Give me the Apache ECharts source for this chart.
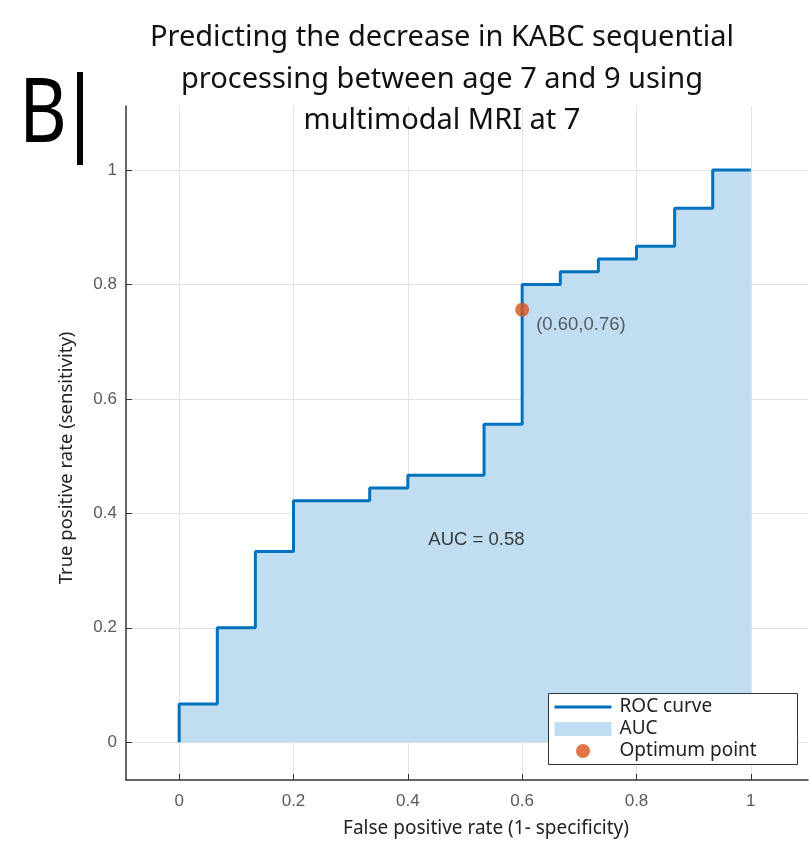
<!DOCTYPE html>
<html>
<head>
<meta charset="utf-8">
<script src="https://cdn.jsdelivr.net/npm/echarts@6/dist/echarts.min.js"></script>
<style>html,body{margin:0;padding:0;background:#fff;}#c{width:811px;height:843px;}</style>
</head>
<body>
<div id="c"></div>
<script>
// ROC staircase vertices (false positive rate, true positive rate)
const fpr = [0, 0, 0.0667, 0.0667, 0.1333, 0.1333, 0.2, 0.2, 0.3333, 0.3333, 0.4, 0.4, 0.5333, 0.5333, 0.6, 0.6, 0.6667, 0.6667, 0.7333, 0.7333, 0.8, 0.8, 0.8667, 0.8667, 0.9333, 0.9333, 1];
const tpr = [0, 0.0667, 0.0667, 0.2, 0.2, 0.3333, 0.3333, 0.4222, 0.4222, 0.4444, 0.4444, 0.4667, 0.4667, 0.5556, 0.5556, 0.8, 0.8, 0.8222, 0.8222, 0.8444, 0.8444, 0.8667, 0.8667, 0.9333, 0.9333, 1, 1];
const optimumPoint = [0.60, 0.756];
const optimumLabel = '(0.60,0.76)';
const aucText = 'AUC = 0.58';
const aucTextPos = [0.52, 0.353];
const xTicks = [0, 0.2, 0.4, 0.6, 0.8, 1];
const yTicks = [0, 0.2, 0.4, 0.6, 0.8, 1];
const titleText = 'Predicting the decrease in KABC sequential\nprocessing between age 7 and 9 using\nmultimodal MRI at 7';
const xName = 'False positive rate (1- specificity)';
const yName = 'True positive rate (sensitivity)';
const legendNames = ['ROC curve', 'AUC', 'Optimum point'];

const roc = fpr.map((x, i) => [x, tpr[i]]);

const chart = echarts.init(document.getElementById('c'), null, {renderer: 'canvas'});
const tickLabelStyle = {color: '#5a5a5a', fontFamily: 'Liberation Sans, Arial, sans-serif', fontSize: 17};
const annoStyle = {color: '#3a3a3a', fontFamily: 'Liberation Sans, Arial, sans-serif', fontSize: 18.5};
chart.setOption({
  animation: false,
  backgroundColor: '#fff',
  title: {
    text: titleText,
    left: 437,
    textAlign: 'center',
    top: 12,
    textStyle: {fontFamily: 'Noto Sans, sans-serif', fontWeight: 'normal', fontSize: 29, color: '#111', lineHeight: 41.5}
  },
  graphic: [
    {type: 'text', x: 19, y: 71, scaleX: 0.82, style: {text: 'B', font: '90px "Noto Sans", sans-serif', fill: '#000'}},
    {type: 'rect', left: 77, top: 72, shape: {width: 6, height: 93}, style: {fill: '#000'}},
    {type: 'rect', left: 548, top: 693, z: 10, shape: {width: 249, height: 71}, style: {fill: '#fff', stroke: '#333', lineWidth: 1}}
  ],
  grid: {left: 126, right: 3, top: 106, bottom: 63, containLabel: false},
  legend: {
    orient: 'vertical',
    left: 553, top: 696,
    z: 11,
    itemWidth: 57, itemHeight: 14, itemGap: 0,
    padding: 0,
    textStyle: {fontFamily: 'Noto Sans, sans-serif', fontSize: 19, lineHeight: 22, color: '#222', padding: [0, 0, 0, 3]},
    data: [
      {name: legendNames[0], itemStyle: {opacity: 0}, lineStyle: {width: 3, color: '#0072BD'}},
      {name: legendNames[1], icon: 'rect'},
      {name: legendNames[2], icon: 'circle'}
    ]
  },
  xAxis: {
    type: 'value', min: -0.093, max: 1.1,
    axisLine: {show: true, onZero: false, lineStyle: {color: '#333', width: 1.5}},
    axisTick: {show: true, inside: true, length: 6, customValues: xTicks, lineStyle: {color: '#333'}},
    axisLabel: {show: true, customValues: xTicks, margin: 13, ...tickLabelStyle, formatter: v => String(+v.toFixed(1))},
    splitLine: {show: true, lineStyle: {color: '#e3e3e3', width: 1}},
    name: xName, nameLocation: 'middle', nameGap: 39,
    nameTextStyle: {fontFamily: 'Noto Sans, sans-serif', fontSize: 19, color: '#222', padding: [0, 0, 0, 38]}
  },
  yAxis: {
    type: 'value', min: -0.066, max: 1.112,
    axisLine: {show: true, onZero: false, lineStyle: {color: '#333', width: 1.5}},
    axisTick: {show: true, inside: true, length: 6, customValues: yTicks, lineStyle: {color: '#333'}},
    axisLabel: {show: true, customValues: yTicks, margin: 9, ...tickLabelStyle, formatter: v => String(+v.toFixed(1))},
    splitLine: {show: true, lineStyle: {color: '#e3e3e3', width: 1}},
    name: yName, nameLocation: 'middle', nameGap: 50,
    nameTextStyle: {fontFamily: 'Noto Sans, sans-serif', fontSize: 18.5, color: '#222', padding: [0, 30, 0, 0]}
  },
  series: [
    {
      name: legendNames[1], type: 'line', data: roc, symbol: 'none', z: 1,
      lineStyle: {width: 0, color: '#c0ddf1'},
      itemStyle: {color: '#c0ddf1'},
      areaStyle: {color: '#c0ddf1', opacity: 1},
      markPoint: {
        symbol: 'circle', symbolSize: 0,
        data: [{coord: aucTextPos, value: aucText}],
        label: {show: true, position: 'inside', formatter: aucText, ...annoStyle}
      }
    },
    {
      name: legendNames[0], type: 'line', data: roc, symbol: 'none', z: 2,
      lineStyle: {width: 3, color: '#0072BD'},
      itemStyle: {color: '#0072BD'}
    },
    {
      name: legendNames[2], type: 'scatter', data: [optimumPoint], z: 3,
      symbol: 'circle', symbolSize: 14,
      itemStyle: {color: '#D95319'},
      label: {show: true, position: 'right', distance: 7, offset: [0, 15], formatter: optimumLabel, ...annoStyle}
    }
  ]
});
</script>
</body>
</html>
